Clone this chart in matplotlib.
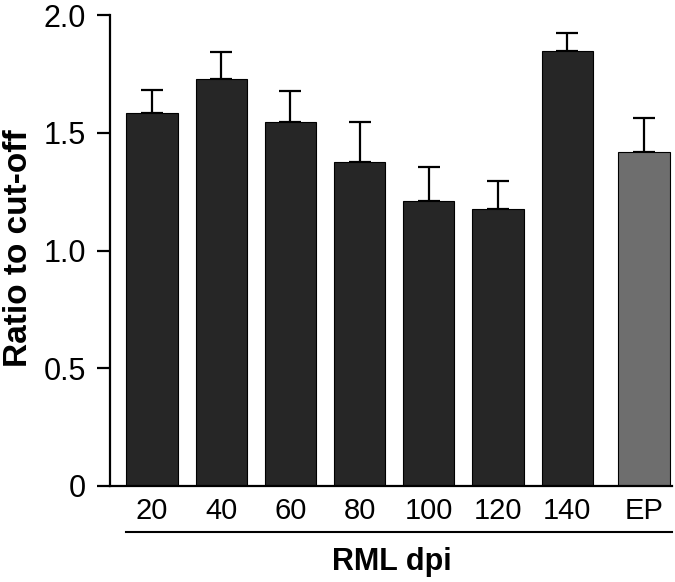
import numpy as np
import matplotlib
matplotlib.use("Agg")
import matplotlib.pyplot as plt
from matplotlib.transforms import blended_transform_factory

# values
groups = ['20', '40', '60', '80', '100', '120', '140', 'EP']
ratio = [1.585, 1.728, 1.546, 1.376, 1.211, 1.176, 1.847, 1.417]
err_up = [0.098, 0.115, 0.130, 0.170, 0.142, 0.120, 0.079, 0.147]
bar_colors = ['#262626'] * 7 + ['#6e6e6e']

plt.rcParams['font.family'] = ['Liberation Sans', 'DejaVu Sans']

fig = plt.figure(figsize=(6.75, 5.82), dpi=100)
ax = fig.add_axes([0.163, 0.165, 0.8326, 0.809])

# EP sits a bit further away from the dpi series
pos = np.arange(len(groups), dtype=float)
pos[-1] += 0.11

ax.bar(pos, ratio, width=0.74, color=bar_colors, edgecolor='black', linewidth=0.8, zorder=2)
ax.errorbar(pos, ratio, yerr=[np.zeros(len(ratio)), err_up], fmt='none',
            ecolor='black', elinewidth=1.6, capsize=8, capthick=1.6, zorder=1)

ax.set_ylim(0, 2.0)
ax.set_xlim(-0.607, pos[-1] + 0.405)
ax.set_yticks([0, 0.5, 1.0, 1.5, 2.0])
ax.set_yticklabels(['0', '0.5', '1.0', '1.5', '2.0'])
ax.set_xticks(pos)
ax.set_xticklabels(groups)

ax.spines['top'].set_visible(False)
ax.spines['right'].set_visible(False)
for s in ['left', 'bottom']:
    ax.spines[s].set_linewidth(1.6)
ax.tick_params(axis='y', direction='out', length=9.5, width=1.6, pad=8, labelsize=22)
ax.tick_params(axis='x', length=0, pad=8, labelsize=21)

ax.set_ylabel('Ratio to cut-off', fontsize=24, fontweight='bold')
ax.yaxis.set_label_coords(-0.136, 0.505)

# group line under the tick labels
tr = blended_transform_factory(ax.transData, ax.transAxes)
ax.plot([pos[0] - 0.37, pos[-1] + 0.405], [-0.098, -0.098], color='black', lw=1.5,
        transform=tr, clip_on=False)
ax.text(3.47, -0.13, 'RML dpi', transform=tr, ha='center', va='top',
        fontsize=22, fontweight='bold')

fig.savefig('out.png', dpi=100)
